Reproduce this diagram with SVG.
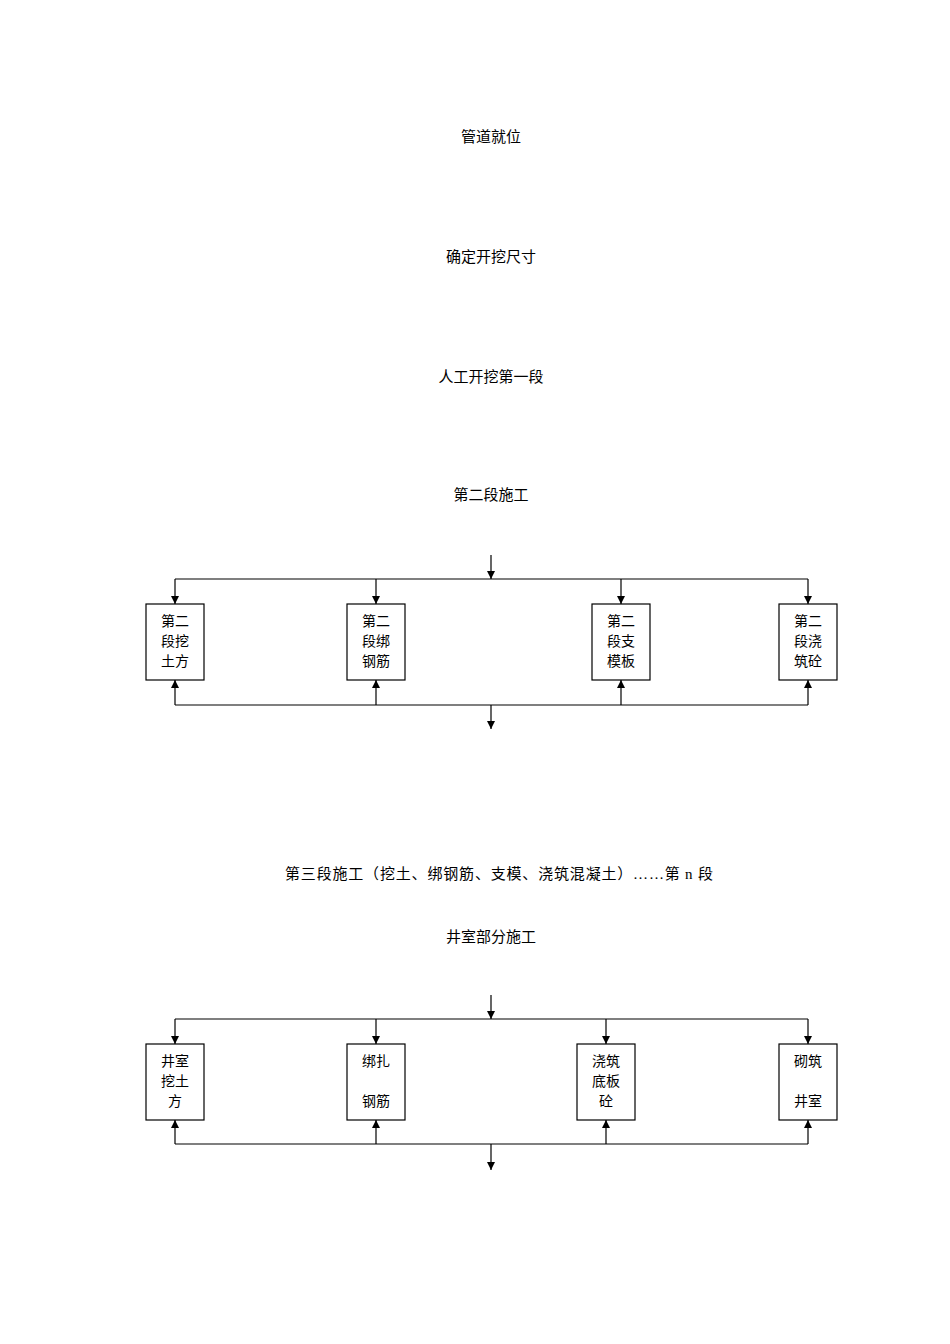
<svg xmlns="http://www.w3.org/2000/svg" width="950" height="1344" viewBox="0 0 950 1344">
<style>
text{font-family:"Liberation Serif","Noto Sans CJK SC",serif;fill:#000}
.t{font-size:15px;text-anchor:middle}
.b{font-size:14px;text-anchor:middle}
rect{fill:#fff;stroke:#000;stroke-width:1.2}
line{stroke:#000;stroke-width:1.2;fill:none}
.ah{fill:#000;stroke:none}
</style>
<defs><marker id="a" markerWidth="8" markerHeight="10" refX="8" refY="5" orient="auto" markerUnits="userSpaceOnUse"><polygon class="ah" points="0,1 8,5 0,9"/></marker></defs>
<rect x="0" y="0" width="950" height="1344" style="stroke:none"/>
<g id="t1"><text class="t" x="491" y="142">管道就位</text></g>
<g id="t2"><text class="t" x="491" y="262">确定开挖尺寸</text></g>
<g id="t3"><text class="t" x="491" y="382">人工开挖第一段</text></g>
<g id="t4"><text class="t" x="491" y="500">第二段施工</text></g>
<g id="t5"><text class="t" x="499" y="879" textLength="428" lengthAdjust="spacing">第三段施工（挖土、绑钢筋、支模、浇筑混凝土）……第 n 段</text></g>
<g id="t6"><text class="t" x="491" y="942">井室部分施工</text></g>
<g id="connectors">
<line x1="491" y1="555" x2="491" y2="579" marker-end="url(#a)"/>
<line x1="175" y1="579" x2="808" y2="579"/>
<line x1="175" y1="579" x2="175" y2="604" marker-end="url(#a)"/>
<line x1="376" y1="579" x2="376" y2="604" marker-end="url(#a)"/>
<line x1="621" y1="579" x2="621" y2="604" marker-end="url(#a)"/>
<line x1="808" y1="579" x2="808" y2="604" marker-end="url(#a)"/>
<line x1="175" y1="705" x2="808" y2="705"/>
<line x1="175" y1="705" x2="175" y2="680" marker-end="url(#a)"/>
<line x1="376" y1="705" x2="376" y2="680" marker-end="url(#a)"/>
<line x1="621" y1="705" x2="621" y2="680" marker-end="url(#a)"/>
<line x1="808" y1="705" x2="808" y2="680" marker-end="url(#a)"/>
<line x1="491" y1="705" x2="491" y2="729" marker-end="url(#a)"/>
<line x1="491" y1="995" x2="491" y2="1019" marker-end="url(#a)"/>
<line x1="175" y1="1019" x2="808" y2="1019"/>
<line x1="175" y1="1019" x2="175" y2="1044" marker-end="url(#a)"/>
<line x1="376" y1="1019" x2="376" y2="1044" marker-end="url(#a)"/>
<line x1="606" y1="1019" x2="606" y2="1044" marker-end="url(#a)"/>
<line x1="808" y1="1019" x2="808" y2="1044" marker-end="url(#a)"/>
<line x1="175" y1="1144" x2="808" y2="1144"/>
<line x1="175" y1="1144" x2="175" y2="1120" marker-end="url(#a)"/>
<line x1="376" y1="1144" x2="376" y2="1120" marker-end="url(#a)"/>
<line x1="606" y1="1144" x2="606" y2="1120" marker-end="url(#a)"/>
<line x1="808" y1="1144" x2="808" y2="1120" marker-end="url(#a)"/>
<line x1="491" y1="1144" x2="491" y2="1170" marker-end="url(#a)"/>
</g>
<g id="n1"><rect x="146" y="604" width="58" height="76"/><text class="b" x="175" y="626">第二</text><text class="b" x="175" y="646">段挖</text><text class="b" x="175" y="666">土方</text></g>
<g id="n2"><rect x="347" y="604" width="58" height="76"/><text class="b" x="376" y="626">第二</text><text class="b" x="376" y="646">段绑</text><text class="b" x="376" y="666">钢筋</text></g>
<g id="n3"><rect x="592" y="604" width="58" height="76"/><text class="b" x="621" y="626">第二</text><text class="b" x="621" y="646">段支</text><text class="b" x="621" y="666">模板</text></g>
<g id="n4"><rect x="779" y="604" width="58" height="76"/><text class="b" x="808" y="626">第二</text><text class="b" x="808" y="646">段浇</text><text class="b" x="808" y="666">筑砼</text></g>
<g id="n5"><rect x="146" y="1044" width="58" height="76"/><text class="b" x="175" y="1066">井室</text><text class="b" x="175" y="1086">挖土</text><text class="b" x="175" y="1106">方</text></g>
<g id="n6"><rect x="347" y="1044" width="58" height="76"/><text class="b" x="376" y="1066">绑扎</text><text class="b" x="376" y="1106">钢筋</text></g>
<g id="n7"><rect x="577" y="1044" width="58" height="76"/><text class="b" x="606" y="1066">浇筑</text><text class="b" x="606" y="1086">底板</text><text class="b" x="606" y="1106">砼</text></g>
<g id="n8"><rect x="779" y="1044" width="58" height="76"/><text class="b" x="808" y="1066">砌筑</text><text class="b" x="808" y="1106">井室</text></g>
</svg>
